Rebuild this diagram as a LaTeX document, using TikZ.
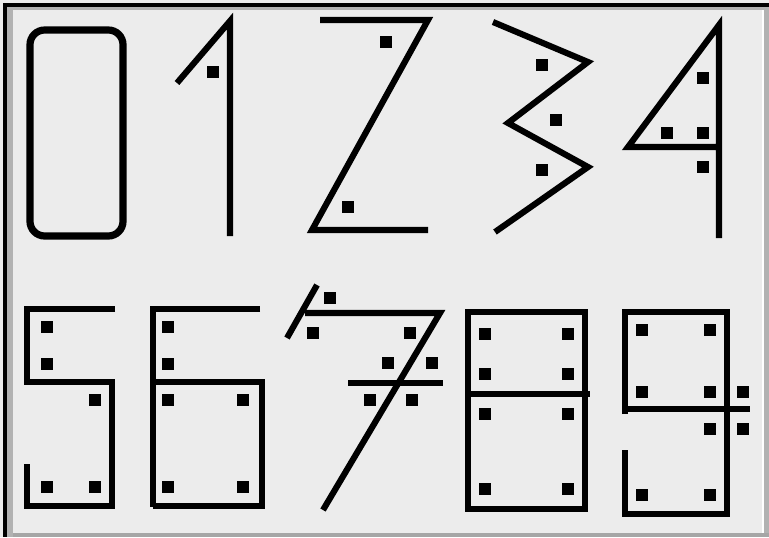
\documentclass[tikz,border=0pt]{standalone}
\begin{document}
\begin{tikzpicture}[x=0.75pt,y=-0.75pt,
  stroke/.style={line width=4.6pt,black,line cap=butt,line join=miter},
  thick0/.style={line width=5.4pt,black,rounded corners=11pt},
  dot/.style={fill=black,minimum size=9.5pt,inner sep=0pt,outer sep=0pt,draw=none}]
\definecolor{bgc}{RGB}{236,236,236}
\definecolor{edgec}{RGB}{178,178,178}
\useasboundingbox (0,0) rectangle (769,537);
% background and frame
\fill[bgc] (0,0) rectangle (769,537);
\fill[black] (3,3) rectangle (769,7);
\fill[black] (3,3) rectangle (7,537);
\fill[edgec] (7,7) rectangle (13,537);
\fill[edgec] (7,7) rectangle (769,10);
\fill[white] (762,10) rectangle (764,533);
\fill[edgec] (764,10) rectangle (769,537);
\fill[gray!70] (13,533) rectangle (769,537);
% 0
\draw[thick0] (30,30) rectangle (123,236);
% 1
\draw[stroke] (177,83) -- (230,21) -- (230,236);
\node[dot] (d1a) at (213,72) {};
% 2
\draw[stroke] (320,20) -- (428,20) -- (312,230) -- (428,230);
\node[dot] (d2a) at (386,42) {};
\node[dot] (d2b) at (348,207) {};
% 3
\draw[stroke] (493,22) -- (588,62) -- (508,123) -- (588,167) -- (495,232);
\node[dot] (d3a) at (542,65) {};
\node[dot] (d3b) at (556,120) {};
\node[dot] (d3c) at (542,170) {};
% 4
\draw[stroke] (719,238) -- (719,25) -- (628,147) -- (719,147);
\node[dot] (d4a) at (703,78) {};
\node[dot] (d4b) at (667,133) {};
\node[dot] (d4c) at (703,133) {};
\node[dot] (d4d) at (703,167) {};
% 5
\draw[stroke] (115,309) -- (27,309) -- (27,382) -- (112,382) -- (112,506) -- (27,506) -- (27,464);
\node[dot] (d5a) at (47,327) {};
\node[dot] (d5b) at (47,364) {};
\node[dot] (d5c) at (95,400) {};
\node[dot] (d5d) at (47,487) {};
\node[dot] (d5e) at (95,487) {};
% 6
\draw[stroke] (260,309) -- (153,309) -- (153,507);
\draw[stroke] (153,382) -- (262,382) -- (262,506) -- (153,506);
\node[dot] (d6a) at (168,327) {};
\node[dot] (d6b) at (168,364) {};
\node[dot] (d6c) at (168,400) {};
\node[dot] (d6d) at (243,400) {};
\node[dot] (d6e) at (168,487) {};
\node[dot] (d6f) at (243,487) {};
% 7
\draw[stroke] (287,338) -- (317,285);
\draw[stroke] (305,313) -- (440,313) -- (323,510);
\draw[stroke] (348,383) -- (443,383);
\node[dot] (d7a) at (330,298) {};
\node[dot] (d7b) at (313,333) {};
\node[dot] (d7c) at (410,333) {};
\node[dot] (d7d) at (388,363) {};
\node[dot] (d7e) at (432,363) {};
\node[dot] (d7f) at (370,400) {};
\node[dot] (d7g) at (412,400) {};
% 8
\draw[stroke] (468,312) rectangle (585,509);
\draw[stroke] (468,394) -- (590,394);
\foreach \yy [count=\i] in {334,374,414,489}{
  \node[dot] (d8l\i) at (485,\yy) {};
  \node[dot] (d8r\i) at (568,\yy) {};
}
% 9
\draw[stroke] (625,414) -- (625,312) -- (727,312) -- (727,514) -- (625,514) -- (625,450);
\draw[stroke] (625,409) -- (750,409);
\node[dot] (d9a) at (642,330) {};
\node[dot] (d9b) at (710,330) {};
\node[dot] (d9c) at (642,392) {};
\node[dot] (d9d) at (710,392) {};
\node[dot] (d9e) at (743,392) {};
\node[dot] (d9f) at (710,429) {};
\node[dot] (d9g) at (743,429) {};
\node[dot] (d9h) at (642,495) {};
\node[dot] (d9i) at (710,495) {};
\end{tikzpicture}
\end{document}
